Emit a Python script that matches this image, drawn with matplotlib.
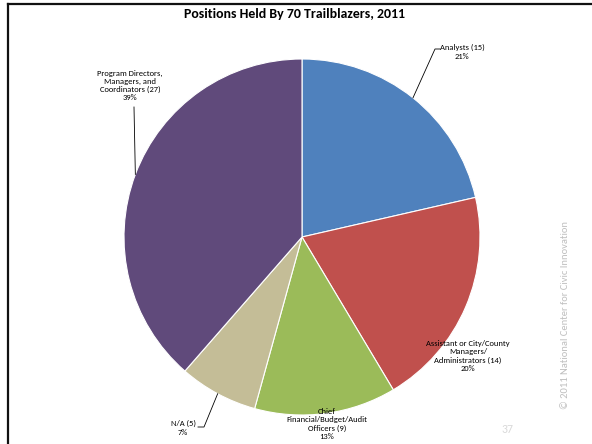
import numpy as np
import matplotlib.pyplot as plt
from matplotlib.lines import Line2D

plt.rcParams['font.family'] = ['Carlito', 'Liberation Sans Narrow', 'Lato', 'DejaVu Sans']

# Positions held, clockwise from 12 o'clock
positions = ['Analysts', 'Assistant or City/County\nManagers/\nAdministrators',
             'Chief\nFinancial/Budget/Audit\nOfficers', 'N/A',
             'Program Directors,\nManagers, and\nCoordinators']
counts = [15, 14, 9, 5, 27]
colors = ['#4F81BD', '#C0504D', '#9BBB59', '#C4BD97', '#604A7B']

W, H = 592, 444
fig = plt.figure(figsize=(W / 100, H / 100), dpi=100)
fig.patch.set_facecolor('white')

# pie area: 356 px square centred at (302, 237)
cx, cy, r = 302, 237, 178
ax = fig.add_axes([(cx - r) / W, (H - cy - r) / H, 2 * r / W, 2 * r / H])
wedges, _ = ax.pie(counts, colors=colors, startangle=90, counterclock=False,
                   radius=1.0, wedgeprops=dict(edgecolor='white', linewidth=0.8))
ax.set_xlim(-1, 1)
ax.set_ylim(-1, 1)
ax.set_aspect('equal')
ax.axis('off')

total = sum(counts)
labels = []
for name, n in zip(positions, counts):
    labels.append(f'{name} ({n})\n{round(100 * n / total)}%')


def px(x, y):
    # pixel location -> pie units
    return (x - cx) / r, (cy - y) / r


def edge(w):
    a = np.deg2rad((w.theta1 + w.theta2) / 2)
    return np.cos(a), np.sin(a)


# label placement and leader lines
text_pos = [px(462, 52), px(468, 356), px(327, 424), px(183, 428), px(130, 85.5)]
leaders = {
    0: [px(435, 49), px(440, 49)],
    3: [px(204, 427), px(198, 427)],
    4: [px(134, 107)],
}
for i, (lab, (tx, ty)) in enumerate(zip(labels, text_pos)):
    ax.text(tx, ty, lab, ha='center', va='center', fontsize=6.1,
            linespacing=1.2, color='black', clip_on=False)
    if i in leaders:
        pts = [edge(wedges[i])] + leaders[i]
        xs, ys = zip(*pts)
        ax.add_line(Line2D(xs, ys, color='black', linewidth=0.6, clip_on=False))

fig.text(295 / W, 1 - 14 / H, 'Positions Held By 70 Trailblazers, 2011',
         ha='center', va='center', fontsize=10, fontweight='bold')

# frame lines on the left and top
fig.add_artist(Line2D([8 / W, 8 / W], [0, 1 - 4 / H], color='#111111', linewidth=1.6))
fig.add_artist(Line2D([8 / W, 1], [1 - 4.5 / H, 1 - 4.5 / H], color='#111111', linewidth=1.6))

fig.text(507 / W, 1 - 429 / H, '37', ha='center', va='center', fontsize=8.5,
         color='#D9D9D9')
fig.text(566 / W, 1 - 315 / H, '\u00a9 2011 National Center for Civic Innovation',
         ha='center', va='center', rotation=90, fontsize=7.6, color='#BFBFBF')

fig.savefig('out.png', dpi=100)
